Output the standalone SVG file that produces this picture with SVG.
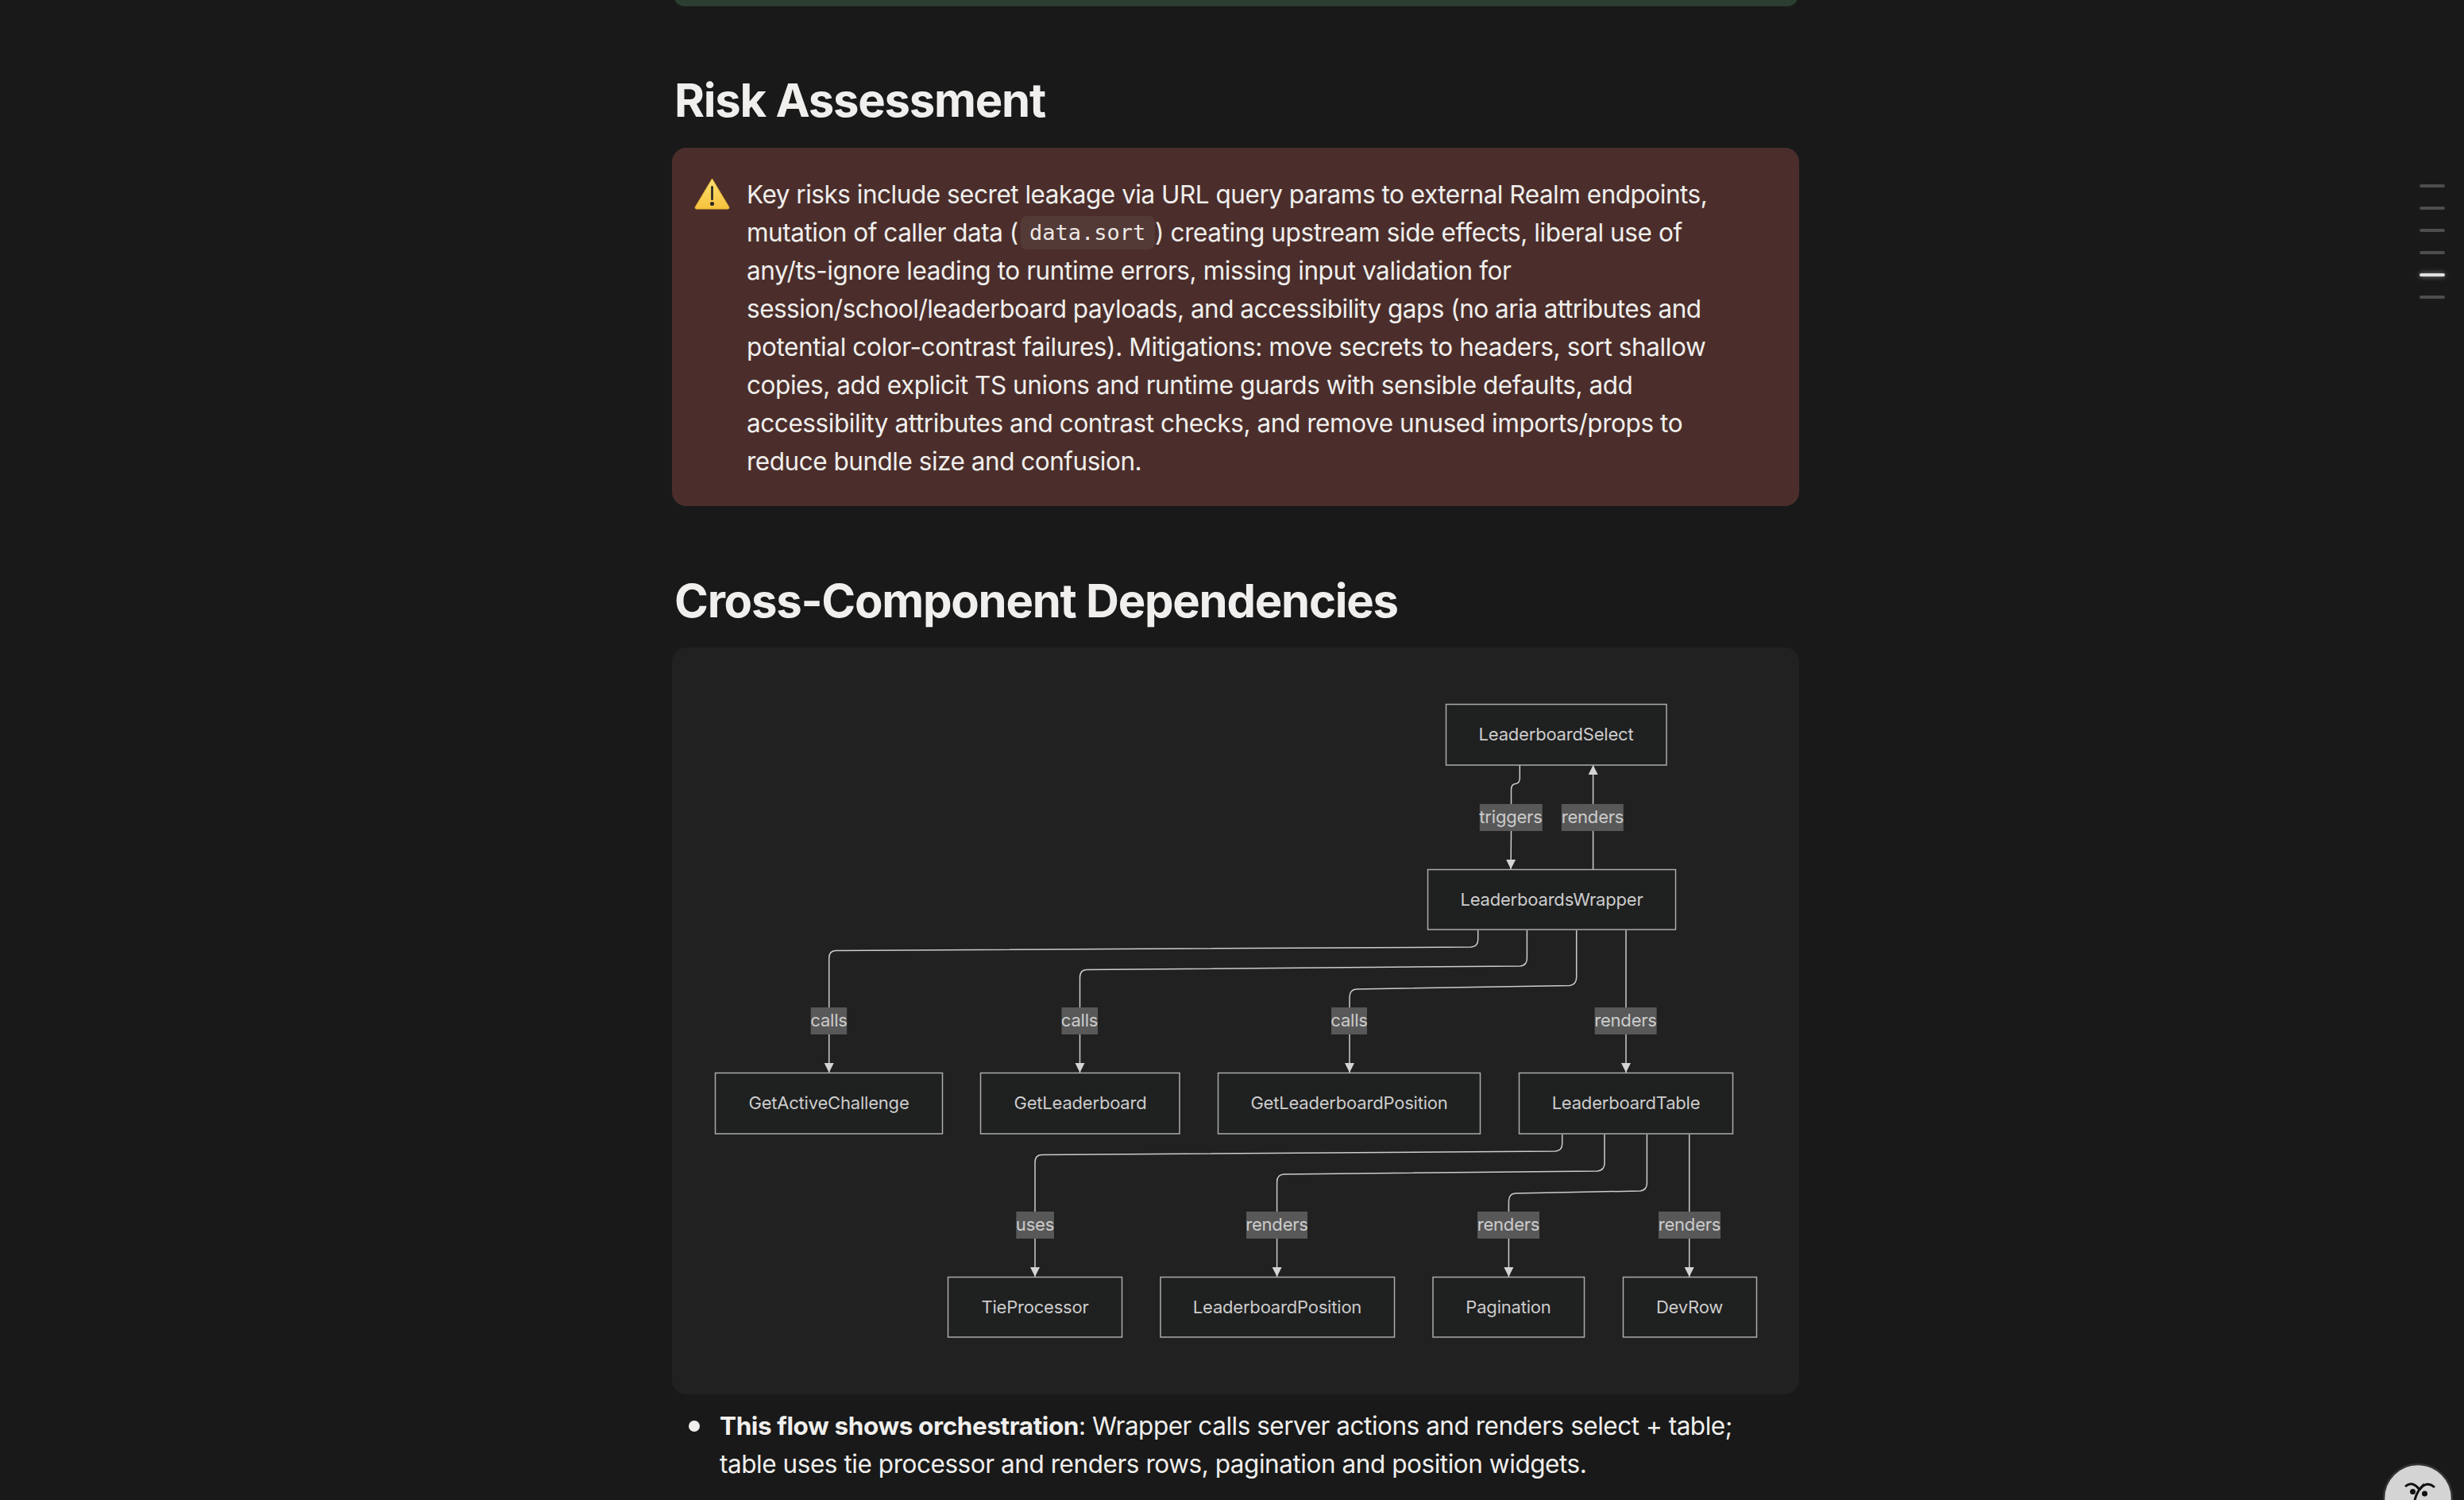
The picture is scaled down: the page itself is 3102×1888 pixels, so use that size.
<svg xmlns="http://www.w3.org/2000/svg" width="3102" height="1888" viewBox="0 0 3102 1888">
<style>
text{font-family:Inter,"Noto Sans","Liberation Sans",sans-serif}
.h{font-size:58px;font-weight:700;fill:#f0efed;letter-spacing:-1.25px}
.b{font-size:31.5px;fill:#f0efed;letter-spacing:-.48px}
.b .s{font-weight:700;letter-spacing:-.4px}
.m{font-family:"DejaVu Sans Mono","Liberation Mono",monospace;font-size:27px;fill:#eee8e5}
.n rect{fill:#1f2020;stroke:#ababab;stroke-width:1.5}
.n text{font-size:22px;fill:#ccc;text-anchor:middle;letter-spacing:-.2px}
.l rect{fill:#585858;opacity:1}
.l text{font-size:22px;fill:#ccc;text-anchor:middle;letter-spacing:-.2px}
.e{fill:none;stroke:#ccc;stroke-width:1.5;marker-end:url(#a)}
.nav{fill:#4d4d4d}
</style>
<defs>
<marker id="a" markerUnits="userSpaceOnUse" markerWidth="14" markerHeight="14" refX="12" refY="6.5" orient="auto"><path d="M0 .5L12 6.5L0 12.5Z" fill="#d4d4d4"/></marker>
<linearGradient id="y" x1="0" y1="0" x2="0" y2="1"><stop offset="0" stop-color="#fde073"/><stop offset="1" stop-color="#f5c13c"/></linearGradient>
<filter id="g" x="-30%" y="-300%" width="160%" height="700%"><feGaussianBlur stdDeviation="3"/></filter>
</defs>
<rect width="3102" height="1888" fill="#191919"/>
<rect x="848" y="-30" width="1416" height="38" rx="14" fill="#2c3d31"/>

<text class="h" x="849" y="147">Risk Assessment</text>
<rect x="846" y="186" width="1419" height="451" rx="18" fill="#4b2e2b"/>
<g id="warning-icon">
<path d="M896.500 225L918 261Q918 263 916 263H877Q875 263 875 261Z" fill="url(#y)" stroke="#e8b23a" stroke-width="1"/>
<rect x="895.200" y="234" width="2.600" height="18" rx="1.300" fill="#222"/>
<circle cx="896.500" cy="256.500" r="2.500" fill="#222"/>
</g>
<rect x="1285" y="272" width="169" height="42" rx="8" fill="#533a37"/>
<text class="b" x="940" y="255.500">Key risks include secret leakage via URL query params to external Realm endpoints,</text>
<text class="b" x="940" y="303.500">mutation of caller data (</text>
<text class="m" x="1296" y="302">data.sort</text>
<text class="b" x="1454" y="303.500" style="letter-spacing:-.4px">) creating upstream side effects, liberal use of</text>
<text class="b" x="940" y="351.500" style="letter-spacing:-.42px">any/ts-ignore leading to runtime errors, missing input validation for</text>
<text class="b" x="940" y="399.500" style="letter-spacing:-.5px">session/school/leaderboard payloads, and accessibility gaps (no aria attributes and</text>
<text class="b" x="940" y="447.500" style="letter-spacing:-.39px">potential color-contrast failures). Mitigations: move secrets to headers, sort shallow</text>
<text class="b" x="940" y="495.500" style="letter-spacing:-.43px">copies, add explicit TS unions and runtime guards with sensible defaults, add</text>
<text class="b" x="940" y="543.500" style="letter-spacing:-.43px">accessibility attributes and contrast checks, and remove unused imports/props to</text>
<text class="b" x="940" y="591.500">reduce bundle size and confusion.</text>

<text class="h" x="849" y="777">Cross-Component Dependencies</text>
<rect x="846" y="815" width="1419" height="940" rx="18" fill="#212121"/>

<g id="connectors">
<path class="e" d="M1913.300 963V979Q1913.300 986 1908 986.500Q1902.500 987 1902.500 994V1012M1902.500 1046L1902 1094"/>
<path class="e" d="M2005.600 1094V963"/>
<path class="e" d="M1860.700 1171V1183Q1860.700 1191 1852 1192L1052 1196.500Q1043.700 1197 1043.700 1206V1350"/>
<path class="e" d="M1922.400 1171V1206Q1922.400 1215 1914 1216L1368 1220.500Q1359.500 1221 1359.500 1230V1350"/>
<path class="e" d="M1984.700 1171V1230Q1984.700 1239 1976 1240.500L1708 1245Q1699 1245.500 1699 1255V1350"/>
<path class="e" d="M2047 1171V1350"/>
<path class="e" d="M1966.700 1428V1440Q1966.700 1448 1958 1449L1311 1453.500Q1303 1454 1303 1463V1607"/>
<path class="e" d="M2020 1428V1464Q2020 1473 2011 1474L1616 1478Q1607.600 1478.500 1607.600 1488V1607"/>
<path class="e" d="M2073.400 1428V1489Q2073.400 1498 2065 1499L1908 1502Q1899.400 1502.500 1899.400 1512V1607"/>
<path class="e" d="M2126.700 1428V1607"/>
</g>

<g id="edge-labels" class="l">
<rect x="1862.800" y="1012" width="79" height="34"/><text x="1902" y="1035.500">triggers</text>
<rect x="1965.800" y="1012" width="78" height="34"/><text x="2005" y="1035.500">renders</text>
<rect x="1020.700" y="1268" width="45.500" height="34"/><text x="1043.500" y="1292">calls</text>
<rect x="1336.500" y="1268" width="45.500" height="34"/><text x="1359" y="1292">calls</text>
<rect x="1676" y="1268" width="45" height="34"/><text x="1698.500" y="1292">calls</text>
<rect x="2007.600" y="1268" width="78" height="34"/><text x="2046.500" y="1292">renders</text>
<rect x="1279.300" y="1525" width="47.700" height="34"/><text x="1303" y="1548.500">uses</text>
<rect x="1569" y="1525" width="77" height="34"/><text x="1607.500" y="1548.500">renders</text>
<rect x="1860" y="1525" width="78" height="34"/><text x="1899" y="1548.500">renders</text>
<rect x="2088" y="1525" width="78" height="34"/><text x="2127" y="1548.500">renders</text>
</g>

<g id="LeaderboardSelect" class="n"><rect x="1820.500" y="886.500" width="277.500" height="76.500"/><text x="1959" y="932">LeaderboardSelect</text></g>
<g id="LeaderboardsWrapper" class="n"><rect x="1797.500" y="1094.500" width="312" height="75.500"/><text x="1953.500" y="1140">LeaderboardsWrapper</text></g>
<g id="GetActiveChallenge" class="n"><rect x="900.500" y="1350.500" width="286" height="76.500"/><text x="1043.500" y="1396">GetActiveChallenge</text></g>
<g id="GetLeaderboard" class="n"><rect x="1234.500" y="1350.500" width="250.500" height="76.500"/><text x="1360" y="1396">GetLeaderboard</text></g>
<g id="GetLeaderboardPosition" class="n"><rect x="1533.500" y="1350.500" width="330" height="76.500"/><text x="1698.500" y="1396">GetLeaderboardPosition</text></g>
<g id="LeaderboardTable" class="n"><rect x="1912.500" y="1350.500" width="269" height="76.500"/><text x="2047" y="1396">LeaderboardTable</text></g>
<g id="TieProcessor" class="n"><rect x="1193.500" y="1607.500" width="219" height="75.500"/><text x="1303" y="1653">TieProcessor</text></g>
<g id="LeaderboardPosition" class="n"><rect x="1461" y="1607.500" width="294.500" height="75.500"/><text x="1608" y="1653">LeaderboardPosition</text></g>
<g id="Pagination" class="n"><rect x="1804" y="1607.500" width="190.500" height="75.500"/><text x="1899" y="1653">Pagination</text></g>
<g id="DevRow" class="n"><rect x="2043.500" y="1607.500" width="168" height="75.500"/><text x="2127" y="1653">DevRow</text></g>

<circle cx="874" cy="1795" r="7" fill="#f0efed"/>
<text class="b" x="906" y="1805.500"><tspan class="s">This flow shows orchestration</tspan>: Wrapper calls server actions and renders select + table;</text>
<text class="b" x="906" y="1853.500" style="letter-spacing:-.45px">table uses tie processor and renders rows, pagination and position widgets.</text>

<g id="page-nav">
<rect class="nav" x="3046" y="232" width="32" height="4" rx="2"/>
<rect class="nav" x="3046" y="260" width="32" height="4" rx="2"/>
<rect class="nav" x="3046" y="288" width="32" height="4" rx="2"/>
<rect class="nav" x="3046" y="316" width="32" height="4" rx="2"/>
<rect x="3046" y="344" width="32" height="4" rx="2" fill="#fff" opacity=".5" filter="url(#g)"/>
<rect x="3046" y="344" width="32" height="4" rx="2" fill="#e0e0e0"/>
<rect class="nav" x="3046" y="372" width="32" height="4" rx="2"/>
</g>
<g id="help-button">
<circle cx="3044" cy="1886" r="43" fill="#d4d4d4" stroke="#333" stroke-width="2.500"/>
<path d="M3028 1871Q3037 1863 3046 1875M3046 1875Q3055 1863 3065 1872M3052 1868Q3043 1876 3040 1888" fill="none" stroke="#111" stroke-width="3"/>
<circle cx="3037.500" cy="1877.500" r="3.500" fill="#111"/>
<circle cx="3052.500" cy="1880" r="3.500" fill="#111"/>
</g>
</svg>
